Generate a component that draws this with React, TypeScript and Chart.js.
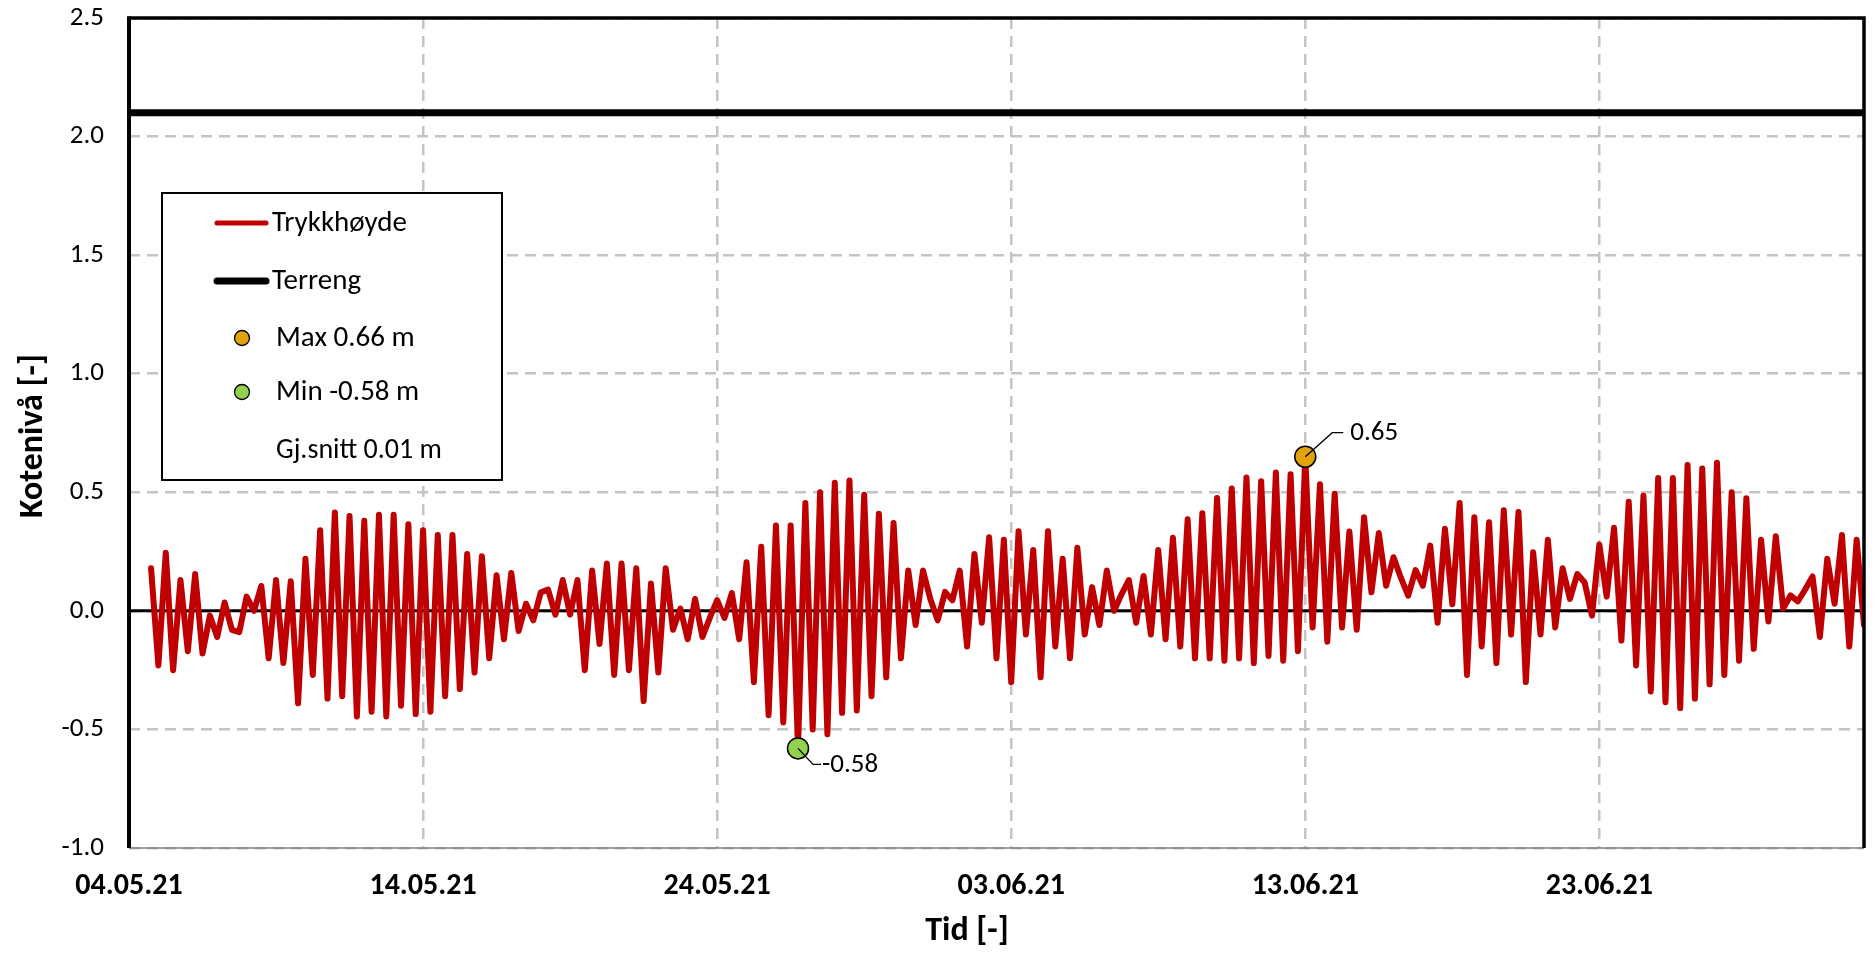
import React, { useEffect, useRef } from "react";
import { Chart, registerables } from "chart.js";

Chart.register(...registerables);

// ---- data ----
const tickDays = [0, 10, 20, 30, 40, 50];
const tickLabels = ["04.05.21", "14.05.21", "24.05.21", "03.06.21", "13.06.21", "23.06.21"];
const xAxisEndDay = 59;
const yMin = -1.0;
const yMax = 2.5;
const yStep = 0.5;
const firstSampleDay = 0.75;
const sampleStepDays = 0.25;

const trykkhoyde = [
  0.18, -0.23, 0.245, -0.25, 0.13, -0.17, 0.155, -0.18, -0.02, -0.11,
  0.035, -0.08, -0.09, 0.06, 0.0, 0.105, -0.2, 0.13, -0.22, 0.125,
  -0.39, 0.22, -0.27, 0.34, -0.37, 0.415, -0.36, 0.4, -0.445, 0.38,
  -0.425, 0.405, -0.445, 0.405, -0.4, 0.365, -0.435, 0.34, -0.425, 0.32,
  -0.36, 0.32, -0.33, 0.24, -0.26, 0.23, -0.2, 0.15, -0.12, 0.16,
  -0.085, 0.03, -0.04, 0.077, 0.09, -0.016, 0.13, -0.016, 0.13, -0.25,
  0.17, -0.14, 0.2, -0.27, 0.2, -0.25, 0.18, -0.38, 0.115, -0.26,
  0.18, -0.08, 0.01, -0.12, 0.05, -0.11, -0.03, 0.045, -0.03, 0.075,
  -0.12, 0.205, -0.3, 0.27, -0.44, 0.36, -0.47, 0.36, -0.58, 0.455,
  -0.5, 0.5, -0.52, 0.54, -0.43, 0.55, -0.42, 0.49, -0.36, 0.41,
  -0.28, 0.37, -0.2, 0.17, -0.06, 0.17, 0.05, -0.04, 0.08, 0.045,
  0.17, -0.15, 0.24, -0.05, 0.31, -0.2, 0.3, -0.3, 0.336, -0.1,
  0.257, -0.28, 0.336, -0.15, 0.22, -0.2, 0.266, -0.1, 0.1, -0.06,
  0.17, 0.0, 0.07, 0.13, -0.05, 0.147, -0.1, 0.257, -0.12, 0.308,
  -0.15, 0.386, -0.2, 0.412, -0.2, 0.476, -0.21, 0.516, -0.2, 0.562,
  -0.22, 0.547, -0.19, 0.583, -0.21, 0.576, -0.17, 0.65, -0.07, 0.534,
  -0.13, 0.494, -0.07, 0.335, -0.08, 0.395, 0.078, 0.328, 0.106, 0.226,
  0.14, 0.064, 0.172, 0.106, 0.275, -0.05, 0.346, 0.028, 0.455, -0.27,
  0.395, -0.15, 0.374, -0.22, 0.424, -0.1, 0.417, -0.3, 0.247, -0.1,
  0.3, -0.07, 0.18, 0.05, 0.155, 0.12, -0.02, 0.28, 0.06, 0.35,
  -0.125, 0.46, -0.23, 0.485, -0.34, 0.56, -0.385, 0.56, -0.41, 0.615,
  -0.37, 0.6, -0.31, 0.625, -0.27, 0.5, -0.21, 0.475, -0.16, 0.3,
  -0.045, 0.315, 0.01, 0.065, 0.04, 0.09, 0.145, -0.11, 0.22, 0.03,
  0.32, -0.15, 0.3, -0.06,
];

const terrengLevel = 2.1;
const maxIndex = 157;
const maxValue = 0.65;
const maxLabel = "0.65";
const minIndex = 88;
const minValue = -0.58;
const minLabel = "-0.58";
const legendLabels = ["Trykkhøyde", "Terreng", "Max 0.66 m", "Min -0.58 m", "Gj.snitt 0.01 m"];
const xTitle = "Tid [-]";
const yTitle = "Kotenivå [-]";

// ---- styles ----
const RED = "#C00000";
const GOLD = "#E2A30C";
const GREEN = "#92D050";
const GRID = "#C4C4C4";
const FONT = "Carlito, Calibri, Lato, sans-serif";
const W = 1876;
const H = 955;
const PLOT_TOP = 18;
const PLOT_BOTTOM = 848;
const PLOT_LEFT = 129;
const PLOT_RIGHT = 1870;

const sampleDay = (k: number) => firstSampleDay + k * sampleStepDays;

const overlayPlugin = {
  id: "overlay",
  afterDatasetsDraw(chart: any) {
    const { ctx, chartArea: a, scales } = chart;
    const xs = scales.x;
    const ys = scales.y;
    ctx.save();

    // plot borders
    ctx.lineCap = "butt";
    ctx.strokeStyle = "#808080";
    ctx.lineWidth = 1.5;
    ctx.beginPath();
    ctx.moveTo(a.left, a.bottom);
    ctx.lineTo(a.right, a.bottom);
    ctx.stroke();
    ctx.strokeStyle = "#000";
    ctx.lineWidth = 3.5;
    ctx.beginPath();
    ctx.moveTo(a.left, a.top);
    ctx.lineTo(a.right, a.top);
    ctx.lineTo(a.right, a.bottom);
    ctx.stroke();
    ctx.lineWidth = 4;
    ctx.beginPath();
    ctx.moveTo(a.left, a.top - 1.75);
    ctx.lineTo(a.left, a.bottom);
    ctx.stroke();

    // data labels with leader lines
    ctx.font = `27px ${FONT}`;
    ctx.fillStyle = "#000";
    ctx.strokeStyle = "#000";
    ctx.lineWidth = 1.3;
    ctx.textBaseline = "middle";
    ctx.textAlign = "left";
    {
      const px = xs.getPixelForValue(sampleDay(maxIndex));
      const py = ys.getPixelForValue(maxValue);
      ctx.beginPath();
      ctx.moveTo(px, py);
      ctx.lineTo(px + 27, py - 24);
      ctx.lineTo(px + 38, py - 24);
      ctx.stroke();
      ctx.fillText(maxLabel, px + 45, py - 23);
    }
    {
      const px = xs.getPixelForValue(sampleDay(minIndex));
      const py = ys.getPixelForValue(minValue);
      ctx.beginPath();
      ctx.moveTo(px, py);
      ctx.lineTo(px + 15, py + 16);
      ctx.lineTo(px + 23, py + 16);
      ctx.stroke();
      ctx.fillText(minLabel, px + 24, py + 17);
    }

    // legend
    const lx = 162, ly = 193, lw = 340, lh = 287;
    ctx.fillStyle = "#fff";
    ctx.fillRect(lx, ly, lw, lh);
    ctx.strokeStyle = "#000";
    ctx.lineWidth = 2;
    ctx.strokeRect(lx, ly, lw, lh);
    const rows = [223, 281, 338, 392, 450];
    ctx.lineCap = "round";
    ctx.strokeStyle = RED;
    ctx.lineWidth = 5;
    ctx.beginPath();
    ctx.moveTo(217, rows[0]);
    ctx.lineTo(266, rows[0]);
    ctx.stroke();
    ctx.strokeStyle = "#000";
    ctx.lineWidth = 7;
    ctx.beginPath();
    ctx.moveTo(217, rows[1]);
    ctx.lineTo(266, rows[1]);
    ctx.stroke();
    const marker = (cx: number, cy: number, fill: string) => {
      ctx.beginPath();
      ctx.arc(cx, cy, 7.5, 0, Math.PI * 2);
      ctx.fillStyle = fill;
      ctx.fill();
      ctx.lineWidth = 1.3;
      ctx.strokeStyle = "#000";
      ctx.stroke();
    };
    marker(242, rows[2], GOLD);
    marker(242, rows[3], GREEN);
    ctx.fillStyle = "#000";
    ctx.font = `29px ${FONT}`;
    ctx.textAlign = "left";
    ctx.textBaseline = "middle";
    ctx.fillText(legendLabels[0], 272, rows[0] + 1);
    ctx.fillText(legendLabels[1], 272, rows[1] + 1);
    ctx.fillText(legendLabels[2], 276, rows[2] + 1);
    ctx.fillText(legendLabels[3], 276, rows[3] + 1);
    ctx.font = `28px ${FONT}`;
    ctx.fillText(legendLabels[4], 276, rows[4] + 1);

    // axis titles
    ctx.font = `bold 34px ${FONT}`;
    ctx.textAlign = "center";
    ctx.fillText(xTitle, 967, 931);
    ctx.save();
    ctx.translate(33, 436);
    ctx.rotate(-Math.PI / 2);
    ctx.fillText(yTitle, 0, 0);
    ctx.restore();

    ctx.restore();
  },
};

export default function App() {
  const canvasRef = useRef<HTMLCanvasElement | null>(null);

  useEffect(() => {
    const canvas = canvasRef.current;
    if (!canvas) return;
    const lineData = trykkhoyde.map((v, k) => ({ x: sampleDay(k), y: v }));
    const chart = new Chart(canvas, {
      type: "line",
      data: {
        datasets: [
          {
            label: "Max",
            data: [{ x: sampleDay(maxIndex), y: maxValue }],
            showLine: false,
            pointRadius: 10.5,
            pointBackgroundColor: GOLD,
            pointBorderColor: "#000",
            pointBorderWidth: 1.5,
            order: 0,
          },
          {
            label: "Min",
            data: [{ x: sampleDay(minIndex), y: minValue }],
            showLine: false,
            pointRadius: 10.5,
            pointBackgroundColor: GREEN,
            pointBorderColor: "#000",
            pointBorderWidth: 1.5,
            order: 0,
          },
          {
            label: legendLabels[0],
            data: lineData,
            borderColor: RED,
            borderWidth: 6,
            pointRadius: 0,
            tension: 0,
            borderJoinStyle: "round",
            borderCapStyle: "round",
            order: 1,
          },
          {
            label: legendLabels[1],
            data: [
              { x: 0, y: terrengLevel },
              { x: xAxisEndDay, y: terrengLevel },
            ],
            borderColor: "#000",
            borderWidth: 7,
            pointRadius: 0,
            order: 2,
          },
          {
            label: "zero",
            data: [
              { x: 0, y: 0 },
              { x: xAxisEndDay, y: 0 },
            ],
            borderColor: "#000",
            borderWidth: 3,
            pointRadius: 0,
            order: 3,
          },
        ],
      },
      options: {
        animation: false,
        responsive: false,
        devicePixelRatio: 1,
        layout: { padding: { top: PLOT_TOP, right: W - PLOT_RIGHT, left: 0, bottom: 0 } },
        plugins: { legend: { display: false }, tooltip: { enabled: false } },
        scales: {
          x: {
            type: "linear",
            min: 0,
            max: xAxisEndDay,
            afterFit: (s: any) => {
              s.height = H - PLOT_BOTTOM;
              s.paddingLeft = 0;
              s.paddingRight = 0;
            },
            afterBuildTicks: (s: any) => {
              s.ticks = tickDays.map((v) => ({ value: v }));
            },
            ticks: {
              autoSkip: false,
              maxRotation: 0,
              padding: 20,
              color: "#000",
              font: { family: FONT, size: 30, weight: "bold" },
              callback: (v: any) => {
                const i = tickDays.indexOf(Number(v));
                return i >= 0 ? tickLabels[i] : "";
              },
            },
            grid: { color: GRID, lineWidth: 2.5, drawTicks: false },
            border: { display: false, dash: [11, 7] },
          },
          y: {
            type: "linear",
            min: yMin,
            max: yMax,
            afterFit: (s: any) => {
              s.width = PLOT_LEFT;
              s.paddingTop = 0;
              s.paddingBottom = 0;
            },
            ticks: {
              stepSize: yStep,
              padding: 25,
              color: "#000",
              font: { family: FONT, size: 27 },
              callback: (v: any) => Number(v).toFixed(1),
            },
            grid: { color: GRID, lineWidth: 2.5, drawTicks: false },
            border: { display: false, dash: [11, 7] },
          },
        },
      },
      plugins: [overlayPlugin],
    } as any);
    return () => chart.destroy();
  }, []);

  return (
    <div style={{ position: "fixed", left: 0, top: 0, width: W, height: H, background: "#fff" }}>
      <canvas ref={canvasRef} width={W} height={H} style={{ width: W, height: H, display: "block" }} />
    </div>
  );
}
